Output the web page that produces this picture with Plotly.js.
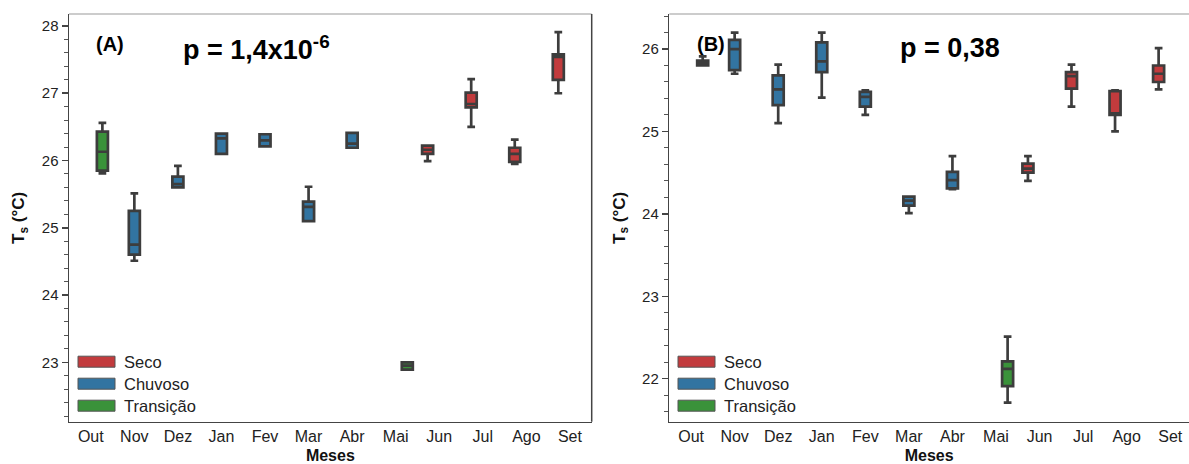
<!DOCTYPE html>
<html>
<head>
<meta charset="utf-8">
<script src="https://cdn.plot.ly/plotly-3.0.1.min.js"></script>
<style>html,body{margin:0;padding:0;background:#fff;}#chart{width:1189px;height:464px;}</style>
</head>
<body>
<div id="chart"></div>
<script>
// ---- Data ----
const months = ['Out','Nov','Dez','Jan','Fev','Mar','Abr','Mai','Jun','Jul','Ago','Set'];
const seasons = ['Seco','Chuvoso','Transição'];
const seasonColors = ['#c23b3d','#3274a1','#3a923a'];

const secoMonths = ['Jun','Jul','Ago','Set'];
const chuvMonths = ['Nov','Dez','Jan','Fev','Mar','Abr'];
const tranMonths = ['Out','Mai'];

// Panel A
const A_seco_lo  = [25.99, 26.50, 25.95, 27.00];
const A_seco_q1  = [26.10, 26.79, 25.98, 27.20];
const A_seco_med = [26.16, 26.84, 26.10, 27.54];
const A_seco_q3  = [26.22, 27.01, 26.19, 27.58];
const A_seco_hi  = [26.22, 27.21, 26.31, 27.91];

const A_chuv_lo  = [24.51, 25.60, 26.10, 26.21, 25.10, 26.19];
const A_chuv_q1  = [24.60, 25.60, 26.10, 26.21, 25.10, 26.19];
const A_chuv_med = [24.75, 25.65, 26.33, 26.30, 25.31, 26.25];
const A_chuv_q3  = [25.25, 25.76, 26.40, 26.39, 25.39, 26.41];
const A_chuv_hi  = [25.51, 25.92, 26.40, 26.39, 25.61, 26.41];

const A_tran_lo  = [25.81, 22.89];
const A_tran_q1  = [25.85, 22.89];
const A_tran_med = [26.13, 22.95];
const A_tran_q3  = [26.43, 23.00];
const A_tran_hi  = [26.56, 23.00];

// Panel B
const B_seco_lo  = [24.40, 25.30, 25.00, 25.51];
const B_seco_q1  = [24.50, 25.52, 25.20, 25.60];
const B_seco_med = [24.55, 25.67, 25.22, 25.70];
const B_seco_q3  = [24.61, 25.72, 25.49, 25.80];
const B_seco_hi  = [24.70, 25.81, 25.50, 26.01];

const B_chuv_lo  = [25.70, 25.10, 25.41, 25.20, 24.01, 24.30];
const B_chuv_q1  = [25.745, 25.32, 25.72, 25.30, 24.10, 24.31];
const B_chuv_med = [26.00, 25.51, 25.85, 25.42, 24.16, 24.41];
const B_chuv_q3  = [26.11, 25.68, 26.08, 25.48, 24.21, 24.51];
const B_chuv_hi  = [26.20, 25.81, 26.20, 25.50, 24.21, 24.70];

const B_tran_lo  = [25.80, 21.71];
const B_tran_q1  = [25.80, 21.91];
const B_tran_med = [25.83, 22.12];
const B_tran_q3  = [25.86, 22.21];
const B_tran_hi  = [25.91, 22.51];

const pTextA = 'p = 1,4x10<sup>-6</sup>';
const pTextB = 'p = 0,38';

// ---- Build ----
const W = 1189, H = 464;
const px = x => x / W;
const py = y => 1 - y / H;
const FONT = 'Liberation Sans, Arial, Helvetica, sans-serif';
const LINE = '#3d3d3d';

function boxTrace(name, color, xs, lo, q1, med, q3, hi, xa, ya, grp, og) {
  return {
    type: 'box', name: name, x: xs,
    lowerfence: lo, q1: q1, median: med, q3: q3, upperfence: hi,
    fillcolor: color, line: {color: LINE, width: 2.7},
    whiskerwidth: 0.7, boxpoints: false, showlegend: false,
    alignmentgroup: grp, offsetgroup: og,
    hoverinfo: 'skip', xaxis: xa, yaxis: ya
  };
}

const data = [
  boxTrace(seasons[0], seasonColors[0], secoMonths, A_seco_lo, A_seco_q1, A_seco_med, A_seco_q3, A_seco_hi, 'x', 'y', 'A', 'a1'),
  boxTrace(seasons[1], seasonColors[1], chuvMonths, A_chuv_lo, A_chuv_q1, A_chuv_med, A_chuv_q3, A_chuv_hi, 'x', 'y', 'A', 'a2'),
  boxTrace(seasons[2], seasonColors[2], tranMonths, A_tran_lo, A_tran_q1, A_tran_med, A_tran_q3, A_tran_hi, 'x', 'y', 'A', 'a3'),
  boxTrace(seasons[0], seasonColors[0], secoMonths, B_seco_lo, B_seco_q1, B_seco_med, B_seco_q3, B_seco_hi, 'x2', 'y2', 'B', 'b1'),
  boxTrace(seasons[1], seasonColors[1], chuvMonths, B_chuv_lo, B_chuv_q1, B_chuv_med, B_chuv_q3, B_chuv_hi, 'x2', 'y2', 'B', 'b2'),
  boxTrace(seasons[2], seasonColors[2], tranMonths, B_tran_lo, B_tran_q1, B_tran_med, B_tran_q3, B_tran_hi, 'x2', 'y2', 'B', 'b3')
];

const domY = [py(421.7), py(14)];
const domA = [px(69), px(591.7)];
const domB = [px(669.3), 1];
const rangeXA = [-0.5, 11.5];
const rangeXB = [-0.5, 11.431];

function catAxis(domain, range, anchor) {
  return {
    domain: domain, anchor: anchor, type: 'category',
    categoryorder: 'array', categoryarray: months, range: range,
    showline: true, linecolor: '#444', linewidth: 1.5,
    ticks: '', showgrid: false, zeroline: false,
    tickfont: {family: FONT, size: 16, color: '#222'},
    title: {text: '<b>Meses</b>', font: {family: FONT, size: 16, color: '#111'}, standoff: 14}
  };
}
function tickAxis(over, anchor, range) {
  return {
    overlaying: over, anchor: anchor, type: 'linear', range: range,
    showticklabels: false, showline: false, showgrid: false, zeroline: false,
    ticks: 'outside', tick0: 0, dtick: 1, ticklen: 6, tickwidth: 1.5, tickcolor: '#444',
    minor: {ticks: 'outside', dtick: 0.2, ticklen: 3.5, tickwidth: 1, tickcolor: '#555', showgrid: false}
  };
}
function valAxis(anchor, range, dtick) {
  return {
    domain: domY, anchor: anchor, range: range, type: 'linear',
    showline: true, linecolor: '#444', linewidth: 1.5,
    ticks: 'outside', tick0: 0, dtick: dtick, ticklen: 6, tickwidth: 1.5, tickcolor: '#444',
    minor: {ticks: 'outside', dtick: 0.2, ticklen: 3.5, tickwidth: 1, tickcolor: '#555', showgrid: false},
    showgrid: false, zeroline: false,
    tickfont: {family: FONT, size: 15, color: '#222'},
    title: {text: '<b>T<sub>s</sub> (°C)</b>', font: {family: FONT, size: 17, color: '#111'}}
  };
}

const shapes = [
  {type: 'line', xref: 'x domain', yref: 'y domain', x0: 0, x1: 1, y0: 1, y1: 1, line: {color: '#999', width: 1.2}},
  {type: 'line', xref: 'x domain', yref: 'y domain', x0: 1, x1: 1, y0: 0, y1: 1, line: {color: '#444', width: 1.5}},
  {type: 'line', xref: 'x2 domain', yref: 'y2 domain', x0: 0, x1: 1, y0: 1, y1: 1, line: {color: '#999', width: 1.2}}
];
const annotations = [];

// Legends (drawn as patches + text)
const legendLeft = [78, 678];
const legendRowY = [361.7, 383.7, 405.7];
legendLeft.forEach(lx => {
  seasons.forEach((s, i) => {
    shapes.push({type: 'rect', xref: 'paper', yref: 'paper',
      x0: px(lx), x1: px(lx + 37), y0: py(legendRowY[i] + 5.5), y1: py(legendRowY[i] - 5.5),
      fillcolor: seasonColors[i], line: {color: '#555', width: 1}});
    annotations.push({xref: 'paper', yref: 'paper', x: px(lx + 44), y: py(legendRowY[i]),
      xanchor: 'left', yanchor: 'middle', showarrow: false, text: s,
      font: {family: FONT, size: 16.5, color: '#222'}});
  });
});

// Panel labels and p-values
annotations.push({xref: 'paper', yref: 'paper', x: px(94), y: py(44), xanchor: 'left', yanchor: 'middle',
  showarrow: false, text: '<b>(A)</b>', font: {family: FONT, size: 20, color: '#000'}});
annotations.push({xref: 'paper', yref: 'paper', x: px(181), y: py(48), xanchor: 'left', yanchor: 'middle',
  showarrow: false, text: '<b>' + pTextA + '</b>', font: {family: FONT, size: 27, color: '#000'}});
annotations.push({xref: 'paper', yref: 'paper', x: px(695), y: py(44), xanchor: 'left', yanchor: 'middle',
  showarrow: false, text: '<b>(B)</b>', font: {family: FONT, size: 20, color: '#000'}});
annotations.push({xref: 'paper', yref: 'paper', x: px(898), y: py(48), xanchor: 'left', yanchor: 'middle',
  showarrow: false, text: '<b>' + pTextB + '</b>', font: {family: FONT, size: 27, color: '#000'}});

const layout = {
  width: W, height: H,
  margin: {l: 0, r: 0, t: 0, b: 0, pad: 0},
  paper_bgcolor: '#fff', plot_bgcolor: '#fff',
  boxmode: 'group', boxgap: 0.2, boxgroupgap: 0.05,
  showlegend: false,
  font: {family: FONT, color: '#222'},
  xaxis: catAxis(domA, rangeXA, 'y'),
  yaxis: valAxis('x', [22.117, 28.178], 1),
  xaxis2: catAxis(domB, rangeXB, 'y2'),
  yaxis2: valAxis('x2', [21.478, 26.425], 1),
  xaxis3: tickAxis('x', 'y', rangeXA),
  xaxis4: tickAxis('x2', 'y2', rangeXB),
  shapes: shapes,
  annotations: annotations
};

Plotly.newPlot('chart', data, layout, {displayModeBar: false, staticPlot: true});
</script>
</body>
</html>
